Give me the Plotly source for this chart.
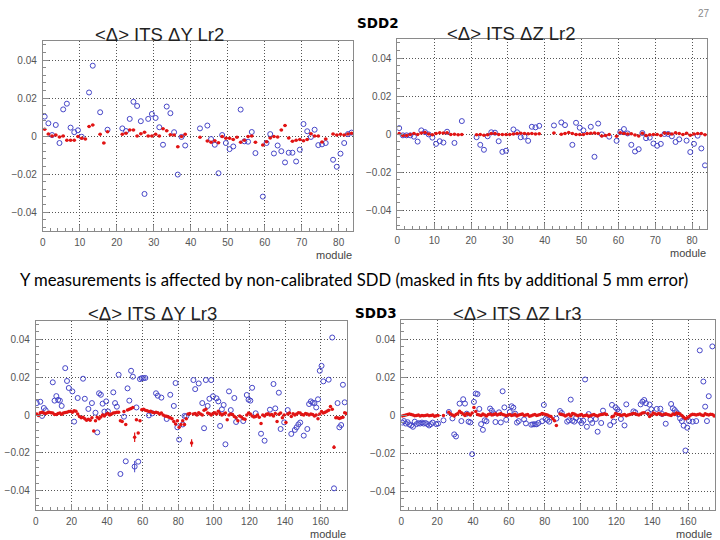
import plotly.graph_objects as go

# ---------------- data ----------------
# Panel 1: <Δ> ITS ΔY Lr2 (84 modules)
p1_blue_mod = [0,1,2,3,4,5,6,7,8,9,10,12,13,15,17,21,22,23,24,25,26,27,28,29,30,31,32,33,34,35,36,37,38,
               42,44,45,46,47,48,49,50,51,53,54,55,56,57,59,60,61,62,63,64,65,66,67,68,69,70,71,72,73,74,75,76,78,79,80,81,82,83]
p1_blue_val = [0.0102,0.0067,0.0005,0.0058,-0.0037,0.014,0.017,0.0044,0.002,0.003,-0.0004,0.0229,0.037,0.0125,0.0033,
               0.004,0.0026,0.009,0.018,0.0158,0.0078,-0.0305,0.009,0.0116,0.0095,0.0046,-0.0046,0.0155,0.012,0.002,-0.0203,-0.0005,-0.005,
               0.004,0.0055,-0.0016,-0.0046,-0.0196,0.0005,-0.0037,-0.0069,-0.0055,0.0139,-0.0028,-0.003,0.0021,-0.009,-0.0319,-0.0037,
               0.001,-0.0092,-0.005,-0.008,-0.0139,-0.0088,-0.0088,-0.0134,-0.0072,0.0063,0.0025,-0.0005,0.0033,-0.0048,-0.0044,-0.0037,
               -0.0125,-0.0162,-0.0093,-0.0037,0.001,0.0018]
p1_red_val = [0.0035,0.001,0.0,0.0005,-0.0005,0.0,-0.0023,-0.0023,-0.0023,-0.0003,
              -0.0012,-0.0016,0.005,0.0058,None,0.0009,-0.0037,0.0023,None,None,
              None,0.0009,0.0014,0.0032,0.0032,0.0,0.0012,0.002,0.0,0.0,
              0.0009,0.0,0.0038,0.0028,0.0007,0.0005,-0.0057,-0.0002,0.0009,None,
              None,None,-0.0007,None,-0.0026,-0.0033,-0.0025,-0.0035,-0.0002,-0.0012,
              -0.0012,-0.0019,-0.0007,-0.0033,-0.0023,-0.0002,0.0,-0.0033,None,-0.0048,
              -0.003,-0.001,-0.0003,-0.0005,0.0032,0.0055,-0.001,-0.0028,-0.0023,-0.0018,
              -0.0025,-0.0018,0.0012,0.0,0.0,-0.0032,-0.0016,None,0.001,0.0005,
              0.0009,0.0005,0.001,0.0014]

# Panel 2: <Δ> ITS ΔZ Lr2
p2_blue_mod = [0,1,2,3,4,5,6,7,8,9,10,11,12,13,15,17,21,22,23,24,25,26,27,28,29,31,32,33,34,35,36,37,38,
               42,44,45,47,48,49,50,52,53,54,55,57,59,60,61,62,63,64,65,66,67,68,69,70,71,72,73,74,75,76,78,79,80,81,82,83]
p2_blue_val = [0.0031,-0.0007,-0.0007,-0.0007,-0.0014,-0.004,0.0019,0.001,-0.0002,-0.0019,-0.0052,-0.0038,-0.0045,0.0012,
               -0.0047,0.0068,-0.0017,-0.0057,-0.0083,-0.0012,0.0009,0.0007,-0.0038,-0.0094,-0.0088,0.0024,0.0009,-0.0017,
               -0.0014,-0.0036,0.0038,0.0035,0.0043,0.0045,0.0061,0.0047,-0.0057,0.0059,0.0033,0.0019,0.0038,-0.012,0.0055,
               -0.0002,-0.0014,-0.0036,0.001,0.0026,0.0003,-0.0057,-0.0092,-0.008,0.0005,-0.0022,-0.0019,-0.005,-0.0062,
               -0.0052,0.0,0.0,-0.0012,-0.0042,-0.0028,-0.0035,-0.0095,-0.0052,-0.0009,-0.0076,-0.0165]
p2_red_val = [0.0003,-0.0008,-0.0008,-0.0003,0.0003,-0.0002,0.0005,0.0008,0.0,-0.0004,
              0.0003,0.0006,0.0005,0.0006,-0.0002,-0.0001,-0.0004,-0.0003,None,None,
              None,-0.0004,-0.0003,-0.0006,-0.0004,0.0002,0.0003,-0.0002,-0.0003,-0.0003,
              -0.0002,0.0,0.0002,0.0004,0.0003,0.0001,0.0002,0.0,0.0001,None,
              None,None,0.0005,None,-0.0001,0.0003,0.0008,0.0002,-0.0002,-0.0003,
              -0.0002,0.0002,0.0004,0.0005,0.0003,-0.001,-0.0008,-0.0003,None,-0.0012,
              0.0007,0.0003,0.0,0.0001,-0.0005,-0.001,0.0004,-0.0008,-0.0004,-0.0003,
              -0.0002,-0.0008,0.0005,0.0003,0.0,0.0006,0.0002,-0.0002,0.0004,-0.0006,
              0.0,0.0002,0.0003,-0.0004]

# Panel 3: <Δ> ITS ΔY Lr3 (176 modules)
p3_blue_mod = [0,2,3,4,5,9,10,11,12,13,14,16,17,18,20,21,23,26,27,29,31,33,34,35,36,37,38,39,40,43,44,45,46,47,49,50,
               51,52,53,54,55,56,57,58,59,60,61,63,65,67,68,70,73,75,77,78,79,80,82,83,84,88,89,91,93,94,95,96,97,98,99,
               101,102,103,104,105,106,108,109,111,112,116,118,119,120,121,123,126,128,131,133,134,136,137,139,141,143,
               145,146,147,148,150,152,153,154,155,156,157,158,159,160,161,164,166,167,169,170,171,172,173]
p3_blue_val = [0.0063,0.007,-0.0005,0.0037,0.0025,0.0173,0.0076,0.010,0.008,0.0076,0.0048,0.0248,0.018,0.0143,0.0125,
               -0.0035,0.009,0.0192,0.0086,0.0032,0.0063,0.0012,-0.0092,0.0115,0.0107,0.006,0.0018,0.0072,0.0019,0.012,
               0.0063,0.0044,0.0213,-0.0312,-0.0009,-0.0245,0.0141,0.0076,0.0234,0.0203,-0.0273,0.004,-0.0247,0.019,
               0.0195,0.0195,0.0196,-0.0002,0.0009,0.0115,0.0102,0.0092,-0.0021,0.0107,0.0048,0.0169,-0.0065,-0.013,
               -0.005,-0.0005,-0.0007,0.0185,0.0137,0.0167,0.0063,-0.007,0.0185,0.0048,0.0086,0.0185,0.0099,0.0088,
               0.0072,-0.0058,0.003,0.0053,-0.0155,0.0125,0.0026,0.009,-0.0037,-0.0032,0.0106,0.0081,0.0076,0.0144,
               0.0009,-0.0099,-0.0136,0.0028,0.0164,0.0035,0.0118,-0.0074,-0.0039,0.0026,-0.010,-0.0079,-0.0065,-0.005,
               -0.004,-0.0109,-0.0074,0.0058,0.0072,0.0065,0.0063,0.004,0.0083,0.0234,0.026,0.0178,0.0187,0.041,
               -0.0388,0.0063,-0.0065,-0.0053,0.016,0.0067]
p3_blue_err_mod = [55]
p3_blue_err_val = [0.003]
p3_red_val = [0.0005,-0.0003,0.0012,0.0015,0.001,0.0008,0.0012,0.0015,0.0012,0.001,
              0.0003,0.0002,0.0008,0.001,0.0004,0.001,0.0013,0.0015,0.0018,0.002,
              0.0015,0.0022,0.002,0.0005,-0.0008,-0.0015,-0.0012,-0.002,-0.0028,-0.0022,
              -0.0028,-0.0015,-0.0085,-0.003,-0.0012,-0.002,-0.001,0.0,-0.0005,0.0004,
              0.0008,0.0,0.0005,0.001,0.0012,0.0014,0.0015,-0.003,-0.0035,0.0018,
              -0.005,0.0026,0.003,0.0035,0.004,-0.0118,-0.0025,-0.0095,-0.003,0.0028,
              0.003,0.0025,0.0022,0.0018,0.002,0.0015,0.0012,0.0015,0.0012,0.0005,
              0.001,0.0,-0.0005,-0.0007,-0.001,-0.0015,-0.002,-0.0035,-0.0048,-0.003,
              -0.0065,-0.005,-0.003,-0.005,-0.002,0.0005,0.0008,-0.0148,0.0005,0.0008,
              0.0,0.0012,0.0005,0.0,0.0025,0.003,0.001,0.0006,0.0,0.0008,
              0.0012,0.0005,0.002,0.0008,0.0,0.0005,0.001,-0.0025,0.0,0.0005,
              0.0003,-0.0008,-0.0015,-0.003,-0.0005,-0.001,-0.002,-0.0022,0.0,0.001,
              0.0005,-0.0005,-0.001,-0.0008,0.0,-0.0012,-0.0045,0.0,-0.0005,0.0004,
              0.0006,0.0,0.0003,-0.0005,0.0008,-0.0035,0.0004,0.001,-0.0015,0.0,
              -0.004,0.0005,0.001,-0.0008,0.0006,0.0,0.0005,0.0012,0.001,0.0003,
              0.0,0.0008,0.0005,0.0,0.0005,0.0003,-0.0005,0.0,-0.002,0.0005,
              0.0018,0.001,0.0015,0.002,0.0025,0.0045,0.003,-0.017,-0.0015,-0.0015,
              -0.0018,-0.0015,-0.0012,0.0012,0.0008,0.001]
p3_red_err_mod = [55, 87, 167]
p3_red_err_val = [0.0025, 0.002, 0.001]

# Panel 4: <Δ> ITS ΔZ Lr3
p4_blue_mod = [0,1,2,3,4,5,6,7,8,9,10,11,12,13,14,15,16,17,19,20,23,26,28,29,30,32,33,34,35,36,37,38,39,40,41,42,43,44,
               45,46,47,49,50,51,52,54,55,56,57,58,60,61,62,63,64,65,68,69,72,73,74,75,76,78,79,80,81,82,86,88,89,92,93,
               94,95,96,97,99,100,101,102,103,104,105,106,108,109,111,112,116,117,118,119,120,121,122,124,125,129,130,
               133,134,135,136,137,138,139,142,144,145,147,150,151,152,153,154,155,156,157,158,159,160,162,164,166,168,
               169,170,171,173]
p4_blue_val = [-0.004,-0.0032,-0.0045,-0.0038,-0.005,-0.0055,-0.0062,-0.0035,-0.0048,-0.0043,-0.0045,-0.004,-0.0045,
               -0.0042,-0.0048,-0.0055,-0.0048,-0.004,-0.0048,-0.0045,-0.0028,0.0016,-0.0018,-0.0102,-0.0113,0.006,
               -0.0032,0.0083,0.006,0.0007,-0.0035,-0.0039,-0.0206,0.0069,0.0113,0.011,0.0032,-0.0048,-0.0078,-0.0028,
               -0.0033,0.0034,0.0023,0.0009,-0.0037,0.0014,-0.0039,0.0125,0.004,-0.0025,0.0016,0.0046,0.0039,0.0007,
               -0.004,-0.0032,-0.0023,-0.0044,-0.0051,-0.0049,-0.0049,-0.0049,-0.0042,-0.0033,0.0053,-0.0021,-0.0026,
               -0.0035,-0.0019,0.0021,0.0011,-0.0035,-0.0028,0.0081,-0.003,-0.0035,-0.0016,-0.003,-0.0042,-0.003,0.0187,
               -0.0062,0.0005,-0.0025,-0.0042,-0.0021,-0.0088,-0.0042,0.0023,-0.0053,0.0053,-0.0035,0.004,0.003,0.0018,
               -0.0021,-0.0055,0.0056,0.0019,0.0014,0.0056,0.007,0.0079,0.0062,0.0014,0.0055,0.003,0.0032,0.0033,0.0005,
               -0.0046,0.0058,0.0035,0.0026,0.0014,0.0004,-0.0018,-0.0032,-0.0056,-0.0187,-0.0067,-0.0032,-0.0035,
               -0.0032,0.034,0.0176,0.0044,-0.0032,0.0099,0.0361]
p4_red_val = [-0.0005,-0.0003,0.0,0.0003,0.0005,0.0002,0.0,-0.0004,-0.0002,0.0,
              -0.0005,-0.0003,-0.0004,-0.0002,0.0,-0.0004,-0.0003,0.0,-0.0006,-0.0004,
              -0.0002,None,None,-0.0003,None,None,0.0015,0.0005,0.0,-0.0005,
              0.0003,0.0008,0.002,0.0012,0.0005,-0.0003,0.0008,0.0005,0.0,0.001,
              0.004,0.0018,0.0003,0.0,-0.0003,0.0005,0.0,-0.0005,0.0002,0.0005,
              0.0,0.0003,0.0006,0.0,0.0004,0.0008,0.0002,0.0,-0.0004,0.0,
              0.0003,-0.0002,0.0,0.0004,-0.0005,0.0,0.0003,0.0005,-0.0003,0.0,
              0.0002,-0.0006,-0.0004,0.0,0.0003,-0.0003,0.0,0.0002,0.0008,0.0005,
              0.0003,0.0,-0.0005,-0.0008,-0.002,-0.003,-0.0055,None,0.0005,0.0003,
              0.0,-0.0005,0.0,0.0004,-0.0005,0.0008,0.0005,0.0,-0.0004,0.0,
              0.0002,-0.0005,-0.0003,0.0,-0.0006,-0.0004,0.0,0.0003,-0.0002,-0.0005,
              0.0,0.0002,0.0004,0.0006,0.0003,None,None,-0.001,-0.0005,0.0008,
              0.0004,0.0002,-0.0003,0.0,0.0003,-0.0004,0.0,0.0002,0.0005,0.0008,
              0.0006,0.0003,0.0,0.0005,0.001,0.0012,None,0.0008,-0.0008,0.0,
              0.001,0.0006,0.0003,0.0008,0.0005,0.0,0.0003,0.0006,0.0002,0.0,
              -0.0003,0.0005,0.0003,0.001,0.0008,0.0005,-0.0002,-0.0012,-0.002,-0.0015,
              -0.0008,0.0,0.0004,0.0003,0.0,0.0002,0.0005,0.0,-0.0003,0.0006,
              0.0003,0.0,0.0004,0.0002,-0.0005,0.0]

panel_titles = ["<Δ> ITS ΔY Lr2", "<Δ> ITS ΔZ Lr2", "<Δ> ITS ΔY Lr3", "<Δ> ITS ΔZ Lr3"]
y_tickvals = [-0.04, -0.02, 0, 0.02, 0.04]
y_ticktext = ["−0.04", "−0.02", "0", "0.02", "0.04"]
caption = "Y measurements is affected by non-calibrated SDD (masked in fits by additional 5 mm error)"
page_number = "27"

# ---------------- styling ----------------
BLUE = "rgb(70,70,200)"
RED = "rgb(225,20,20)"
FRAME = "#8a8a8a"
GRID = "#555555"
TICKFONT = dict(family="Liberation Sans, Arial", size=10, color="#555555")

fig = go.Figure()

panels = [
    (p1_blue_mod, p1_blue_val, p1_red_val, "x", "y"),
    (p2_blue_mod, p2_blue_val, p2_red_val, "x2", "y2"),
    (p3_blue_mod, p3_blue_val, p3_red_val, "x3", "y3"),
    (p4_blue_mod, p4_blue_val, p4_red_val, "x4", "y4"),
]

for i, (bm, bv, rv, xa, ya) in enumerate(panels):
    bx = [m + 0.5 for m in bm]
    berr = None
    if i == 2:
        berr = [p3_blue_err_val[p3_blue_err_mod.index(m)] if m in p3_blue_err_mod else 0 for m in bm]
    fig.add_trace(go.Scatter(
        x=bx, y=bv, mode="markers", xaxis=xa, yaxis=ya,
        marker=dict(symbol="circle-open", size=5, color=BLUE, line=dict(width=1, color=BLUE)),
        error_y=dict(type="data", array=berr, visible=berr is not None, thickness=1, width=0, color=BLUE),
        showlegend=False, hoverinfo="skip"))
    rx = [m + 0.5 for m, v in enumerate(rv) if v is not None]
    ry = [v for v in rv if v is not None]
    rerr = None
    if i == 2:
        idx = [m for m, v in enumerate(rv) if v is not None]
        rerr = [p3_red_err_val[p3_red_err_mod.index(m)] if m in p3_red_err_mod else 0 for m in idx]
    fig.add_trace(go.Scatter(
        x=rx, y=ry, mode="markers", xaxis=xa, yaxis=ya,
        marker=dict(symbol="circle", size=3.5, color=RED),
        error_x=dict(type="constant", value=0.5, thickness=1, width=0, color=RED),
        error_y=dict(type="data", array=rerr, visible=rerr is not None, thickness=1.2, width=0, color=RED),
        showlegend=False, hoverinfo="skip"))

def xaxis(domain, rng, dtick, minor, anchor):
    return dict(domain=domain, range=rng, anchor=anchor, dtick=dtick, tick0=0,
                showline=True, linecolor=FRAME, linewidth=1, mirror=True,
                ticks="inside", ticklen=6, tickcolor=FRAME,
                minor=dict(ticks="inside", ticklen=3, dtick=minor, tickcolor=FRAME, showgrid=False),
                showgrid=True, gridcolor=GRID, griddash="1px,2px", gridwidth=1,
                zeroline=False, tickfont=TICKFONT, ticklabelstandoff=2)

def yaxis(domain, anchor):
    return dict(domain=domain, range=[-0.05, 0.05], anchor=anchor,
                tickvals=y_tickvals, ticktext=y_ticktext,
                showline=True, linecolor=FRAME, linewidth=1, mirror=True,
                ticks="inside", ticklen=6, tickcolor=FRAME,
                minor=dict(ticks="inside", ticklen=3, dtick=0.004, tick0=0, tickcolor=FRAME, showgrid=False),
                showgrid=True, gridcolor=GRID, griddash="1px,2px", gridwidth=1,
                zeroline=False, tickfont=TICKFONT, ticklabelstandoff=3)

W, H = 720, 540
def dx(a, b): return [a / W, b / W]
def dy(top, bottom): return [1 - bottom / H, 1 - top / H]

fig.update_layout(
    width=W, height=H, margin=dict(l=0, r=0, t=0, b=0),
    paper_bgcolor="white", plot_bgcolor="white",
    xaxis=xaxis(dx(40, 351.9), [0, 84], 10, 2, "y"),
    yaxis=yaxis(dy(41, 231), "x"),
    xaxis2=xaxis(dx(396, 706.8), [0, 84], 10, 2, "y2"),
    yaxis2=yaxis(dy(39, 229), "x2"),
    xaxis3=xaxis(dx(33, 345.8), [0, 175], 20, 4, "y3"),
    yaxis3=yaxis(dy(320.5, 509.5), "x3"),
    xaxis4=xaxis(dx(400, 715), [0, 175], 20, 4, "y4"),
    yaxis4=yaxis(dy(320, 510), "x4"),
)

ann = []
title_font = dict(family="Liberation Sans, Arial", size=18.5, color="#222222")
for t, (cx, cy) in zip(panel_titles, [(157, 35), (511, 33), (150, 313), (517, 313)]):
    ann.append(dict(text=t, x=cx / W, y=1 - cy / H, xref="paper", yref="paper",
                    xanchor="center", yanchor="middle", showarrow=False, font=title_font))
mod_font = dict(family="Liberation Sans, Arial", size=11, color="#444444")
for rx_, ry_ in [(352, 255), (708, 253), (346, 534), (714, 534)]:
    ann.append(dict(text="module", x=rx_ / W, y=1 - ry_ / H, xref="paper", yref="paper",
                    xanchor="right", yanchor="middle", showarrow=False, font=mod_font))
sdd_font = dict(family="DejaVu Sans", size=13.5, color="black")
ann.append(dict(text="<b>SDD2</b>", x=353 / W, y=1 - 23 / H, xref="paper", yref="paper",
                xanchor="left", yanchor="middle", showarrow=False, font=sdd_font))
ann.append(dict(text="<b>SDD3</b>", x=351 / W, y=1 - 313 / H, xref="paper", yref="paper",
                xanchor="left", yanchor="middle", showarrow=False, font=sdd_font))
ann.append(dict(text=caption, x=352 / W, y=1 - 280 / H, xref="paper", yref="paper",
                xanchor="center", yanchor="middle", showarrow=False,
                font=dict(family="Lato", size=16.7, color="black")))
ann.append(dict(text=page_number, x=712 / W, y=1 - 14 / H, xref="paper", yref="paper",
                xanchor="right", yanchor="middle", showarrow=False,
                font=dict(family="Liberation Sans, Arial", size=10, color="#888888")))
fig.update_layout(annotations=ann)

fig.write_html("out.html")
